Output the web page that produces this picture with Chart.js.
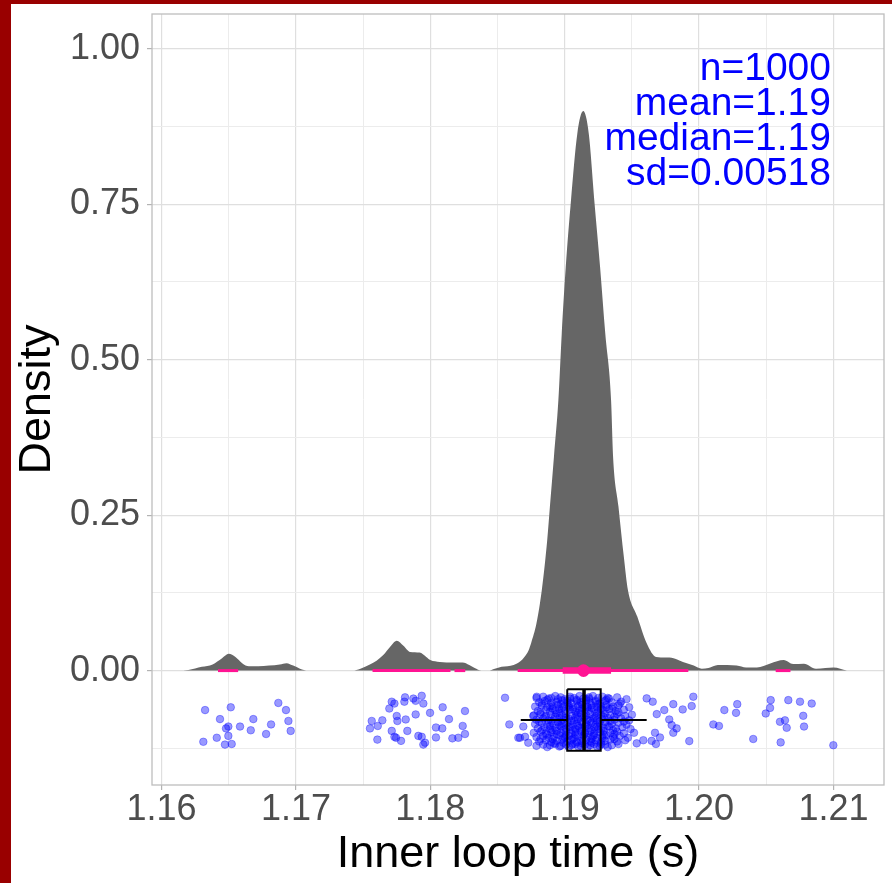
<!DOCTYPE html>
<html>
<head>
<meta charset="utf-8">
<script src="https://cdn.jsdelivr.net/npm/chart.js@4.4.1/dist/chart.umd.min.js"></script>
<style>
  html, body { margin: 0; padding: 0; background: #990000; }
  #wrap { position: absolute; left: 11px; top: 4px; width: 881px; height: 879px; background: #ffffff; }
</style>
</head>
<body>
<div id="wrap"><canvas id="densChart" width="881" height="879"></canvas></div>
<script>
// density curve (x in s, y density)
const densityX = [1.1612,1.1620,1.1630,1.1638,1.1645,1.1650,1.1655,1.1660,1.1665,1.1672,1.1680,1.1688,1.1693,1.1698,1.1703,1.1709,
  1.1742,1.1748,1.1755,1.1760,1.1765,1.1770,1.1775,1.1780,1.1785,1.1792,1.1797,1.1800,1.1807,1.1817,1.1824,1.1829,1.1833,1.1838,
  1.1843,1.1848,1.1853,1.1862,1.1867,1.1870,1.1873,1.1875,1.1879,1.1883,1.1887,1.1889,1.1892,1.18953,1.18978,1.19008,1.19047,1.19094,
  1.19138,1.19179,1.19220,1.19263,1.19302,1.19345,1.1936,1.1940,1.1944,1.1947,1.1954,1.1961,1.1968,1.1975,1.1981,1.1988,1.1996,1.2002,
  1.2007,1.2014,1.2021,1.2028,1.2035,1.2043,1.2053,1.2063,1.2070,1.2078,1.2087,1.2094,1.2100,1.2110];
const densityY = [0,0.001,0.006,0.010,0.020,0.027,0.022,0.012,0.007,0.007,0.008,0.010,0.012,0.008,0.003,0,
  0,0.003,0.010,0.016,0.025,0.038,0.048,0.040,0.030,0.029,0.022,0.017,0.014,0.013,0.013,0.009,0.004,0,
  0,0.003,0.006,0.009,0.015,0.022,0.032,0.044,0.076,0.130,0.210,0.264,0.344,0.435,0.542,0.650,0.757,0.864,
  0.900,0.864,0.757,0.650,0.542,0.435,0.344,0.264,0.183,0.130,0.087,0.044,0.022,0.021,0.020,0.014,0.008,0.003,
  0.004,0.009,0.009,0.008,0.005,0.005,0.0115,0.017,0.0105,0.011,0.003,0.004,0.005,0];

// intervals drawn on the baseline
const thinIntervals = [[1.1642,1.1657],[1.1757,1.1815],[1.1818,1.1826],[1.1865,1.1992],[1.2057,1.2068]];
const thickIntervals = [[1.18985,1.19345]];
const medianValue = 1.1914;

// boxplot: lower whisker, q1, median, q3, upper whisker ; box top / middle / bottom
const boxX = [1.18673,1.19019,1.19144,1.19268,1.1961];
const boxY = [-0.030,-0.0796,-0.129];

// jittered raw points
const jitterSparse = [
  [1.16324,-0.0635],[1.16515,-0.059],[1.16435,-0.078],[1.16497,-0.090],[1.16480,-0.093],[1.16584,-0.090],[1.16683,-0.078],
  [1.16664,-0.096],[1.16411,-0.108],[1.16311,-0.1145],[1.16497,-0.105],[1.16472,-0.119],[1.16522,-0.118],[1.16869,-0.052],
  [1.16926,-0.0635],[1.16944,-0.081],[1.16815,-0.0866],[1.16961,-0.097],[1.16778,-0.102],
  [1.17713,-0.050],[1.17733,-0.053],[1.17695,-0.061],[1.17812,-0.043],[1.17807,-0.050],[1.17874,-0.045],[1.17891,-0.0486],
  [1.17936,-0.0405],[1.17948,-0.053],[1.17564,-0.081],[1.17551,-0.093],[1.17609,-0.089],[1.17643,-0.080],[1.17750,-0.073],
  [1.17755,-0.081],[1.17817,-0.0786],[1.17713,-0.097],[1.17733,-0.1065],[1.17745,-0.108],[1.17829,-0.097],[1.17782,-0.113],
  [1.17606,-0.111],[1.17891,-0.0705],[1.17998,-0.068],[1.17911,-0.105],[1.17936,-0.1065],[1.17948,-0.119],[1.17961,-0.116],
  [1.18092,-0.059],[1.18139,-0.078],[1.18258,-0.065],[1.18042,-0.0915],[1.18089,-0.093],[1.18241,-0.089],[1.18258,-0.102],
  [1.18042,-0.1075],[1.18164,-0.109],[1.18208,-0.108],[1.18556,-0.0437],[1.18588,-0.0866],[1.18655,-0.108],
  [1.18692,-0.090],[1.18667,-0.108],[1.18729,-0.116],[1.18705,-0.1065],[1.18766,-0.073],[1.18792,-0.042],
  [1.19610,-0.0447],[1.19655,-0.050],[1.19685,-0.070],[1.19741,-0.0635],[1.19808,-0.054],[1.19878,-0.0625],[1.19945,-0.057],
  [1.19957,-0.042],[1.19778,-0.0786],[1.19796,-0.0877],[1.19833,-0.093],[1.19808,-0.100],[1.19672,-0.100],[1.19709,-0.1075],
  [1.19647,-0.113],[1.19679,-0.118],[1.19585,-0.112],[1.19516,-0.100],[1.19536,-0.117],[1.19927,-0.1134],
  [1.20106,-0.0866],[1.20148,-0.089],[1.20188,-0.0635],[1.20275,-0.068],[1.20284,-0.054],[1.20403,-0.110],[1.20496,-0.069],
  [1.20528,-0.060],[1.20533,-0.0475],[1.20664,-0.0475],[1.20751,-0.050],[1.20838,-0.053],[1.20602,-0.0823],[1.20639,-0.080],
  [1.20652,-0.092],[1.20775,-0.0727],[1.20781,-0.090],[1.20607,-0.1155],[1.20999,-0.120]
];
const jitterCore = [
  [1.1879,-0.044],[1.1884,-0.042],[1.1888,-0.045],[1.1893,-0.041],[1.1897,-0.043],[1.1900,-0.046],[1.1904,-0.042],[1.1907,-0.044],[1.1911,-0.041],[1.1914,-0.045],[1.1918,-0.043],[1.1921,-0.041],[1.1925,-0.044],[1.1928,-0.042],[1.1933,-0.045],[1.1939,-0.043],[1.1946,-0.046],
  [1.1881,-0.051],[1.1885,-0.049],[1.1890,-0.052],[1.1894,-0.050],[1.1898,-0.048],[1.1902,-0.051],[1.1905,-0.053],[1.1909,-0.049],[1.1912,-0.051],[1.1916,-0.048],[1.1919,-0.052],[1.1923,-0.050],[1.1926,-0.053],[1.1930,-0.049],[1.1935,-0.051],[1.1942,-0.050],
  [1.1878,-0.058],[1.1883,-0.056],[1.1887,-0.059],[1.1891,-0.057],[1.1895,-0.055],[1.1899,-0.058],[1.1903,-0.056],[1.1906,-0.059],[1.1910,-0.057],[1.1913,-0.055],[1.1917,-0.058],[1.1920,-0.056],[1.1924,-0.059],[1.1927,-0.057],[1.1931,-0.055],[1.1936,-0.058],[1.1940,-0.056],[1.1948,-0.059],
  [1.1880,-0.065],[1.1886,-0.063],[1.1889,-0.066],[1.1893,-0.064],[1.1896,-0.062],[1.1900,-0.065],[1.1904,-0.063],[1.1908,-0.066],[1.1911,-0.064],[1.1915,-0.062],[1.1918,-0.065],[1.1922,-0.063],[1.1925,-0.066],[1.1929,-0.064],[1.1933,-0.062],[1.1938,-0.065],[1.1944,-0.063],
  [1.1877,-0.072],[1.1882,-0.070],[1.1886,-0.073],[1.1890,-0.071],[1.1894,-0.069],[1.1898,-0.072],[1.1901,-0.070],[1.1905,-0.073],[1.1909,-0.071],[1.1912,-0.069],[1.1916,-0.072],[1.1919,-0.070],[1.1923,-0.073],[1.1927,-0.071],[1.1930,-0.069],[1.1934,-0.072],[1.1939,-0.070],[1.1945,-0.073],[1.1950,-0.071],
  [1.1879,-0.079],[1.1884,-0.077],[1.1888,-0.080],[1.1892,-0.078],[1.1896,-0.076],[1.1899,-0.079],[1.1903,-0.077],[1.1907,-0.080],[1.1910,-0.078],[1.1914,-0.076],[1.1917,-0.079],[1.1921,-0.077],[1.1924,-0.080],[1.1928,-0.078],[1.1932,-0.076],[1.1937,-0.079],[1.1942,-0.077],[1.1948,-0.080],
  [1.1878,-0.086],[1.1883,-0.084],[1.1887,-0.087],[1.1891,-0.085],[1.1895,-0.083],[1.1898,-0.086],[1.1902,-0.084],[1.1906,-0.087],[1.1909,-0.085],[1.1913,-0.083],[1.1916,-0.086],[1.1920,-0.084],[1.1923,-0.087],[1.1926,-0.085],[1.1930,-0.083],[1.1935,-0.086],[1.1940,-0.084],[1.1946,-0.087],
  [1.1880,-0.093],[1.1885,-0.091],[1.1889,-0.094],[1.1893,-0.092],[1.1897,-0.090],[1.1901,-0.093],[1.1904,-0.091],[1.1908,-0.094],[1.1911,-0.092],[1.1915,-0.090],[1.1918,-0.093],[1.1922,-0.091],[1.1925,-0.094],[1.1929,-0.092],[1.1933,-0.090],[1.1938,-0.093],[1.1943,-0.091],[1.1949,-0.094],
  [1.1877,-0.100],[1.1882,-0.098],[1.1886,-0.101],[1.1890,-0.099],[1.1894,-0.097],[1.1897,-0.100],[1.1901,-0.098],[1.1905,-0.101],[1.1908,-0.099],[1.1912,-0.097],[1.1915,-0.100],[1.1919,-0.098],[1.1922,-0.101],[1.1926,-0.099],[1.1929,-0.097],[1.1934,-0.100],[1.1939,-0.098],[1.1944,-0.101],
  [1.1879,-0.107],[1.1884,-0.105],[1.1888,-0.108],[1.1892,-0.106],[1.1896,-0.104],[1.1900,-0.107],[1.1903,-0.105],[1.1907,-0.108],[1.1910,-0.106],[1.1914,-0.104],[1.1917,-0.107],[1.1921,-0.105],[1.1924,-0.108],[1.1928,-0.106],[1.1931,-0.104],[1.1936,-0.107],[1.1941,-0.105],[1.1947,-0.108],
  [1.1881,-0.114],[1.1886,-0.112],[1.1890,-0.115],[1.1894,-0.113],[1.1898,-0.111],[1.1902,-0.114],[1.1905,-0.112],[1.1909,-0.115],[1.1912,-0.113],[1.1916,-0.111],[1.1919,-0.114],[1.1923,-0.112],[1.1927,-0.115],[1.1930,-0.113],[1.1934,-0.111],[1.1939,-0.114],[1.1945,-0.112],
  [1.1879,-0.121],[1.1884,-0.119],[1.1889,-0.120],[1.1893,-0.118],[1.1897,-0.121],[1.1901,-0.119],[1.1905,-0.120],[1.1908,-0.118],[1.1912,-0.121],[1.1915,-0.119],[1.1919,-0.120],[1.1922,-0.118],[1.1926,-0.121],[1.1930,-0.119],[1.1935,-0.120],[1.1940,-0.118],
  [1.1887,-0.047],[1.1895,-0.046],[1.1902,-0.048],[1.1909,-0.047],[1.1916,-0.046],[1.1923,-0.048],[1.1931,-0.047],
  [1.1891,-0.061],[1.1898,-0.060],[1.1906,-0.062],[1.1913,-0.061],[1.1920,-0.060],[1.1927,-0.062],[1.1935,-0.061],
  [1.1885,-0.075],[1.1893,-0.074],[1.1901,-0.076],[1.1908,-0.075],[1.1915,-0.074],[1.1922,-0.076],[1.1929,-0.075],[1.1937,-0.074],
  [1.1889,-0.089],[1.1896,-0.088],[1.1903,-0.090],[1.1910,-0.089],[1.1917,-0.088],[1.1924,-0.090],[1.1932,-0.089],
  [1.1887,-0.103],[1.1894,-0.102],[1.1901,-0.104],[1.1908,-0.103],[1.1915,-0.102],[1.1922,-0.104],[1.1929,-0.103],[1.1937,-0.102],
  [1.1892,-0.117],[1.1899,-0.116],[1.1906,-0.118],[1.1913,-0.117],[1.1920,-0.116],[1.1927,-0.118],
  [1.1883,-0.053],[1.1890,-0.044],[1.1897,-0.054],[1.1904,-0.045],[1.1911,-0.054],[1.1918,-0.045],[1.1925,-0.054],[1.1932,-0.044],[1.1941,-0.053],
  [1.1882,-0.067],[1.1889,-0.058],[1.1896,-0.068],[1.1903,-0.059],[1.1910,-0.068],[1.1917,-0.059],[1.1924,-0.068],[1.1931,-0.059],[1.1940,-0.067],
  [1.1881,-0.082],[1.1890,-0.081],[1.1897,-0.082],[1.1905,-0.081],[1.1912,-0.082],[1.1919,-0.081],[1.1926,-0.082],[1.1934,-0.081],[1.1944,-0.082],
  [1.1883,-0.096],[1.1891,-0.096],[1.1899,-0.095],[1.1906,-0.096],[1.1913,-0.095],[1.1920,-0.096],[1.1927,-0.095],[1.1936,-0.096],
  [1.1882,-0.110],[1.1891,-0.110],[1.1899,-0.109],[1.1906,-0.110],[1.1913,-0.109],[1.1920,-0.110],[1.1928,-0.109],[1.1937,-0.110],
  [1.1887,-0.123],[1.1896,-0.122],[1.1903,-0.123],[1.1910,-0.122],[1.1917,-0.123],[1.1924,-0.122],[1.1932,-0.123]
];

// axes
const xMajor = [1.16,1.17,1.18,1.19,1.20,1.21];
const xMinor = [1.165,1.175,1.185,1.195,1.205];
const yMajor = [0,0.25,0.5,0.75,1.0];
const yMinor = [-0.125,0.125,0.375,0.625,0.875];
const xRange = [1.15929,1.21376];
const yRange = [-0.184,1.056];

const statLines = ["n=1000","mean=1.19","median=1.19","sd=0.00518"];

const FONT = "'Liberation Sans', Arial, sans-serif";

function isMajor(list, v) {
  return list.some(m => Math.abs(m - v) < 1e-9);
}
function tickList(major, minor) {
  return major.concat(minor).sort((a, b) => a - b).map(v => ({ value: v }));
}
function seg(a, b, y) {
  return [{ x: a, y: y }, { x: b, y: y }];
}

let datasets = [];

datasets.push({
  type: "line",
  data: densityX.map((x, i) => ({ x: x, y: densityY[i] })),
  backgroundColor: "#666666",
  borderColor: "#666666",
  borderWidth: 0,
  fill: "origin",
  pointRadius: 0,
  cubicInterpolationMode: "monotone",
  order: 10
});

datasets.push({
  type: "scatter",
  data: jitterSparse.concat(jitterCore).map(p => ({ x: p[0], y: p[1] })),
  backgroundColor: "rgba(0,0,255,0.4)",
  borderColor: "rgba(0,0,255,0.34)",
  borderWidth: 1,
  pointRadius: 3.8,
  order: 8
});

// boxplot outline, whiskers, median
const boxLine = { type: "line", borderColor: "#000000", borderWidth: 2, pointRadius: 0, fill: false, order: 6 };
datasets.push(Object.assign({}, boxLine, {
  data: [{ x: boxX[1], y: boxY[0] }, { x: boxX[3], y: boxY[0] }, { x: boxX[3], y: boxY[2] },
         { x: boxX[1], y: boxY[2] }, { x: boxX[1], y: boxY[0] }]
}));
datasets.push(Object.assign({}, boxLine, { data: seg(boxX[0], boxX[1], boxY[1]) }));
datasets.push(Object.assign({}, boxLine, { data: seg(boxX[3], boxX[4], boxY[1]) }));
datasets.push(Object.assign({}, boxLine, {
  borderWidth: 3.5,
  data: [{ x: boxX[2], y: boxY[0] }, { x: boxX[2], y: boxY[2] }]
}));

thinIntervals.forEach(iv => {
  datasets.push({ type: "line", data: seg(iv[0], iv[1], 0), borderColor: "#FF1493", borderWidth: 3,
    borderCapStyle: "butt", pointRadius: 0, fill: false, order: 4 });
});
thickIntervals.forEach(iv => {
  datasets.push({ type: "line", data: seg(iv[0], iv[1], 0), borderColor: "#FF1493", borderWidth: 6.5,
    borderCapStyle: "butt", pointRadius: 0, fill: false, order: 3 });
});
datasets.push({ type: "scatter", data: [{ x: medianValue, y: 0 }], backgroundColor: "#FF1493",
  borderColor: "#FF1493", borderWidth: 0, pointRadius: 6.3, order: 2 });

const panelPlugin = {
  id: "panel",
  afterDraw(chart) {
    const c = chart.ctx, a = chart.chartArea;
    c.save();
    c.strokeStyle = "#BDBDBD";
    c.lineWidth = 1.3;
    c.strokeRect(a.left, a.top, a.right - a.left, a.bottom - a.top);
    c.fillStyle = "#0000FF";
    c.font = "39px " + FONT;
    c.textAlign = "right";
    c.textBaseline = "middle";
    statLines.forEach((t, i) => {
      c.fillText(t, a.right - 53, a.top + 55 + i * 35.2);
    });
    c.restore();
  }
};

new Chart(document.getElementById("densChart"), {
  type: "scatter",
  data: { datasets: datasets },
  options: {
    responsive: false,
    animation: false,
    layout: { padding: { left: 0, top: 10, right: 8, bottom: 0 } },
    plugins: { legend: { display: false }, tooltip: { enabled: false } },
    scales: {
      x: {
        type: "linear",
        min: xRange[0],
        max: xRange[1],
        afterBuildTicks: s => { s.ticks = tickList(xMajor, xMinor); },
        afterFit: s => { s.height = 98; s.paddingLeft = 0; s.paddingRight = 0; },
        border: { display: false },
        grid: {
          color: ctx => isMajor(xMajor, ctx.tick.value) ? "#DFDFDF" : "#ECECEC",
          lineWidth: ctx => isMajor(xMajor, ctx.tick.value) ? 1.2 : 1,
          tickColor: ctx => isMajor(xMajor, ctx.tick.value) ? "#B3B3B3" : "rgba(0,0,0,0)",
          tickLength: 5
        },
        ticks: {
          autoSkip: false,
          maxRotation: 0,
          padding: 2,
          color: "#4D4D4D",
          font: { family: FONT, size: 36, lineHeight: 1 },
          callback: v => isMajor(xMajor, v) ? v.toFixed(2) : ""
        },
        title: {
          display: true,
          text: "Inner loop time (s)",
          color: "#000000",
          font: { family: FONT, size: 45 },
          padding: { top: 0, bottom: 1 }
        }
      },
      y: {
        type: "linear",
        min: yRange[0],
        max: yRange[1],
        afterBuildTicks: s => { s.ticks = tickList(yMajor, yMinor); },
        afterFit: s => { s.width = 141; s.paddingTop = 0; s.paddingBottom = 0; },
        border: { display: false },
        grid: {
          color: ctx => isMajor(yMajor, ctx.tick.value) ? "#DFDFDF" : "#ECECEC",
          lineWidth: ctx => isMajor(yMajor, ctx.tick.value) ? 1.2 : 1,
          tickColor: ctx => isMajor(yMajor, ctx.tick.value) ? "#B3B3B3" : "rgba(0,0,0,0)",
          tickLength: 5
        },
        ticks: {
          autoSkip: false,
          padding: 7,
          color: "#4D4D4D",
          font: { family: FONT, size: 36 },
          callback: v => isMajor(yMajor, v) ? v.toFixed(2) : ""
        },
        title: {
          display: true,
          text: "Density",
          color: "#000000",
          font: { family: FONT, size: 45 },
          padding: { top: 0, bottom: 0 }
        }
      }
    }
  },
  plugins: [panelPlugin]
});
</script>
</body>
</html>
